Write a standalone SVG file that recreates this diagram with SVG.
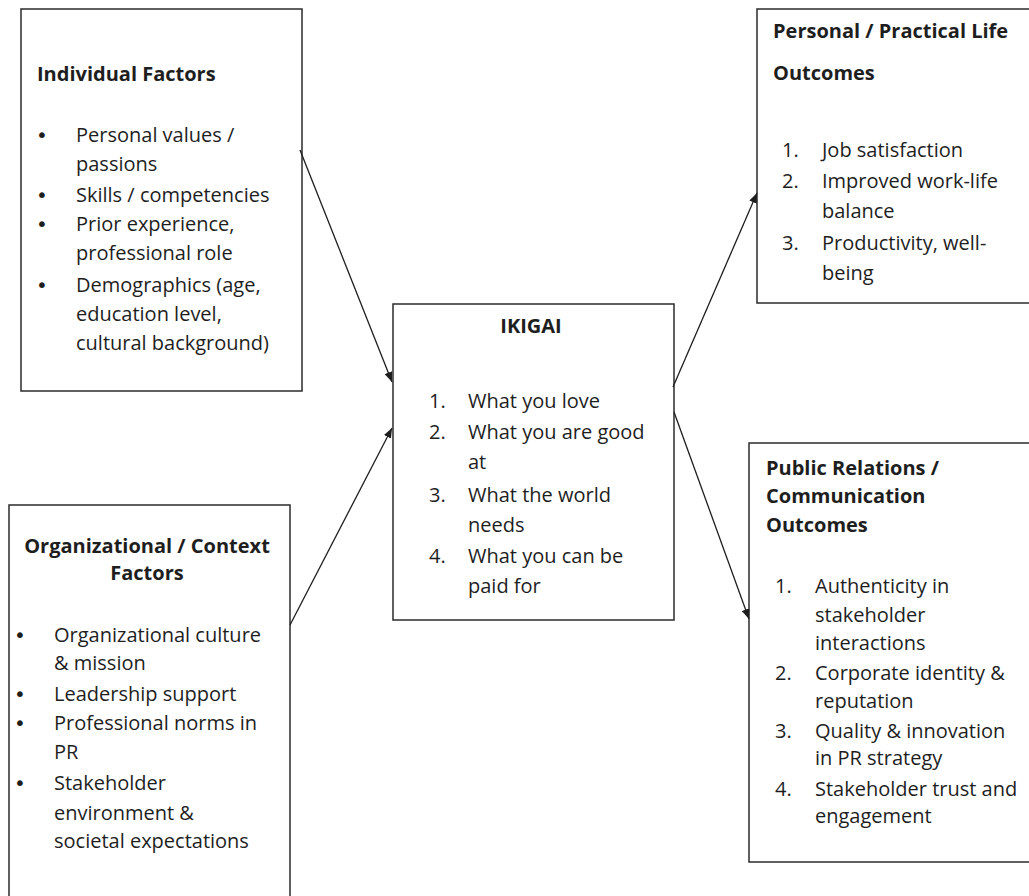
<svg xmlns="http://www.w3.org/2000/svg" width="1029" height="896" viewBox="0 0 1029 896">
<style>
.box{fill:#fff;stroke:#2b2b2b;stroke-width:1.5}
text{font-family:"Open Sans",Lato,"Liberation Sans",sans-serif;font-size:20px;fill:#1e1e1e}
.t{font-weight:bold}
.c{text-anchor:middle}
.b{font-family:"DejaVu Sans",sans-serif;font-size:20px;text-anchor:middle}
.ln{stroke:#1e1e1e;stroke-width:1.3;fill:none;marker-end:url(#ah)}
</style>
<defs>
<marker id="ah" viewBox="0 0 10 8" refX="10" refY="4" markerWidth="10" markerHeight="8" markerUnits="userSpaceOnUse" orient="auto">
<path d="M0,0 L10,4 L0,8 Z" fill="#1e1e1e"/>
</marker>
</defs>
<rect width="1029" height="896" fill="#fff"/>
<g id="individual">
<rect class="box" x="21" y="9" width="281" height="382"/>
<text class="t" x="37" y="81">Individual Factors</text>
<text x="42" y="142" class="b">•</text><text x="76" y="142">Personal values /</text>
<text x="76" y="171">passions</text>
<text x="42" y="202" class="b">•</text><text x="76" y="202">Skills / competencies</text>
<text x="42" y="231" class="b">•</text><text x="76" y="231">Prior experience,</text>
<text x="76" y="260">professional role</text>
<text x="42" y="292" class="b">•</text><text x="76" y="292">Demographics (age,</text>
<text x="76" y="321">education level,</text>
<text x="76" y="350">cultural background)</text>
</g>
<g id="organizational">
<rect class="box" x="9" y="505" width="281" height="400"/>
<text class="t c" x="147" y="553">Organizational / Context</text>
<text class="t c" x="147" y="580">Factors</text>
<text x="20" y="642" class="b">•</text><text x="54" y="642">Organizational culture</text>
<text x="54" y="670">&amp; mission</text>
<text x="20" y="701" class="b">•</text><text x="54" y="701">Leadership support</text>
<text x="20" y="730" class="b">•</text><text x="54" y="730">Professional norms in</text>
<text x="54" y="759">PR</text>
<text x="20" y="790" class="b">•</text><text x="54" y="790">Stakeholder</text>
<text x="54" y="820">environment &amp;</text>
<text x="54" y="848">societal expectations</text>
</g>
<g id="ikigai">
<rect class="box" x="393" y="304" width="281" height="316"/>
<text class="t c" x="531" y="333">IKIGAI</text>
<text x="429" y="408">1.</text><text x="468" y="408">What you love</text>
<text x="429" y="439">2.</text><text x="468" y="439">What you are good</text>
<text x="468" y="469">at</text>
<text x="429" y="502">3.</text><text x="468" y="502">What the world</text>
<text x="468" y="532">needs</text>
<text x="429" y="563">4.</text><text x="468" y="563">What you can be</text>
<text x="468" y="593">paid for</text>
</g>
<g id="personal-outcomes">
<rect class="box" x="757" y="9" width="290" height="294"/>
<text class="t" x="773" y="38">Personal / Practical Life</text>
<text class="t" x="773" y="80">Outcomes</text>
<text x="782" y="157">1.</text><text x="822" y="157">Job satisfaction</text>
<text x="782" y="188">2.</text><text x="822" y="188">Improved work-life</text>
<text x="822" y="218">balance</text>
<text x="782" y="250">3.</text><text x="822" y="250">Productivity, well-</text>
<text x="822" y="280">being</text>
</g>
<g id="pr-outcomes">
<rect class="box" x="749" y="443" width="300" height="419"/>
<text class="t" x="766" y="475">Public Relations /</text>
<text class="t" x="766" y="503">Communication</text>
<text class="t" x="766" y="532">Outcomes</text>
<text x="775" y="593">1.</text><text x="815" y="593">Authenticity in</text>
<text x="815" y="622">stakeholder</text>
<text x="815" y="650">interactions</text>
<text x="775" y="680">2.</text><text x="815" y="680">Corporate identity &amp;</text>
<text x="815" y="708">reputation</text>
<text x="775" y="738">3.</text><text x="815" y="738">Quality &amp; innovation</text>
<text x="815" y="765">in PR strategy</text>
<text x="775" y="796">4.</text><text x="815" y="796">Stakeholder trust and</text>
<text x="815" y="823">engagement</text>
</g>
<g id="connectors">
<line class="ln" x1="300" y1="150" x2="392" y2="382"/>
<line class="ln" x1="290" y1="625" x2="392" y2="428"/>
<line class="ln" x1="673" y1="387" x2="757" y2="193"/>
<line class="ln" x1="674" y1="412" x2="749" y2="619"/>
</g>
</svg>
